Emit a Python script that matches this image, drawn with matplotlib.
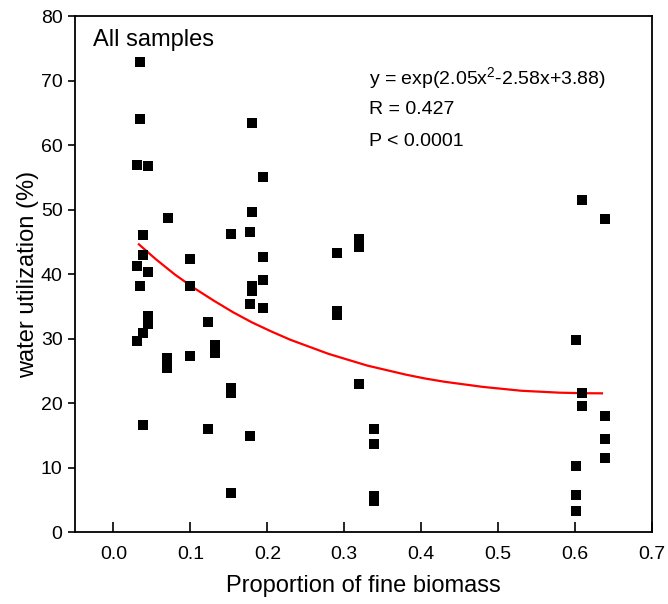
import matplotlib
matplotlib.use("Agg")
import matplotlib.pyplot as plt

plt.rcParams['font.family'] = ['Liberation Sans', 'DejaVu Sans']

# scatter points (proportion of fine biomass, water utilization %)
fine_prop = [0.034, 0.034, 0.031, 0.045, 0.071, 0.039, 0.153, 0.039, 0.100, 0.031,
             0.045, 0.034, 0.100, 0.045, 0.045, 0.039, 0.031, 0.070, 0.070, 0.100,
             0.123, 0.132, 0.132, 0.153, 0.153, 0.039, 0.123, 0.153,
             0.180, 0.195, 0.180, 0.177, 0.195, 0.195, 0.180, 0.180, 0.177, 0.195,
             0.177, 0.291, 0.291, 0.291, 0.319, 0.319, 0.319, 0.339, 0.339, 0.339,
             0.339, 0.601, 0.609, 0.609, 0.639, 0.639, 0.639, 0.601, 0.601, 0.601,
             0.609, 0.639]
water_util = [72.8, 64.0, 56.9, 56.8, 48.7, 46.0, 46.2, 42.9, 42.3, 41.3,
              40.3, 38.1, 38.2, 33.5, 32.2, 30.9, 29.6, 27.0, 25.5, 27.3,
              32.6, 29.0, 27.8, 22.3, 21.6, 16.6, 16.0, 6.0,
              63.4, 55.0, 49.6, 46.5, 42.6, 39.1, 38.2, 37.3, 35.3, 34.8,
              14.9, 43.2, 34.2, 33.6, 45.4, 44.2, 23.0, 15.9, 13.7, 5.6,
              4.8, 29.8, 21.6, 19.5, 18.0, 14.4, 11.4, 10.3, 5.8, 3.2,
              51.4, 48.5]

# fitted curve, points
fit_x = [0.033, 0.055, 0.08, 0.105, 0.13, 0.155, 0.18, 0.205, 0.23, 0.255, 0.28,
         0.305, 0.33, 0.355, 0.38, 0.405, 0.43, 0.455, 0.48, 0.505, 0.53, 0.555,
         0.58, 0.61, 0.635]
fit_y = [44.6, 42.3, 39.9, 37.8, 35.9, 34.1, 32.5, 31.1, 29.8, 28.7, 27.6,
         26.7, 25.8, 25.1, 24.4, 23.8, 23.3, 22.9, 22.5, 22.2, 21.9, 21.75,
         21.6, 21.52, 21.5]

x_ticks = [0.0, 0.1, 0.2, 0.3, 0.4, 0.5, 0.6, 0.7]
y_ticks = [0, 10, 20, 30, 40, 50, 60, 70, 80]

fig = plt.figure(figsize=(6.68, 6.04), dpi=100)
ax = fig.add_axes([0.1123, 0.1192, 0.8637, 0.8543])

ax.plot(fit_x, fit_y, color='#ff0000', lw=1.6, solid_joinstyle='round', zorder=2)
ax.scatter(fine_prop, water_util, marker='s', s=52, color='black', linewidths=0, zorder=3)

ax.set_xlim(-0.05, 0.7)
ax.set_ylim(0, 80)
ax.set_xticks(x_ticks)
ax.set_yticks(y_ticks)
ax.set_xticklabels([f'{t:.1f}' for t in x_ticks])
ax.tick_params(axis='x', direction='in', length=7, width=1.2, labelsize=14, pad=10)
ax.tick_params(axis='y', direction='out', length=5, width=1.2, labelsize=14, pad=4)
for s in ax.spines.values():
    s.set_linewidth(1.3)

ax.set_xlabel('Proportion of fine biomass', fontsize=17, labelpad=9)
ax.set_ylabel('water utilization (%)', fontsize=17, labelpad=1)

ax.text(0.032, 0.975, 'All samples', transform=ax.transAxes, fontsize=17, va='top', ha='left')
ax.text(0.51, 0.905, r'y = exp(2.05x$^{\mathregular{2}}$-2.58x+3.88)', transform=ax.transAxes,
        fontsize=14, va='top', ha='left')
ax.text(0.51, 0.836, 'R = 0.427', transform=ax.transAxes, fontsize=14, va='top', ha='left')
ax.text(0.51, 0.774, 'P < 0.0001', transform=ax.transAxes, fontsize=14, va='top', ha='left')

fig.savefig('out.png', dpi=100)
